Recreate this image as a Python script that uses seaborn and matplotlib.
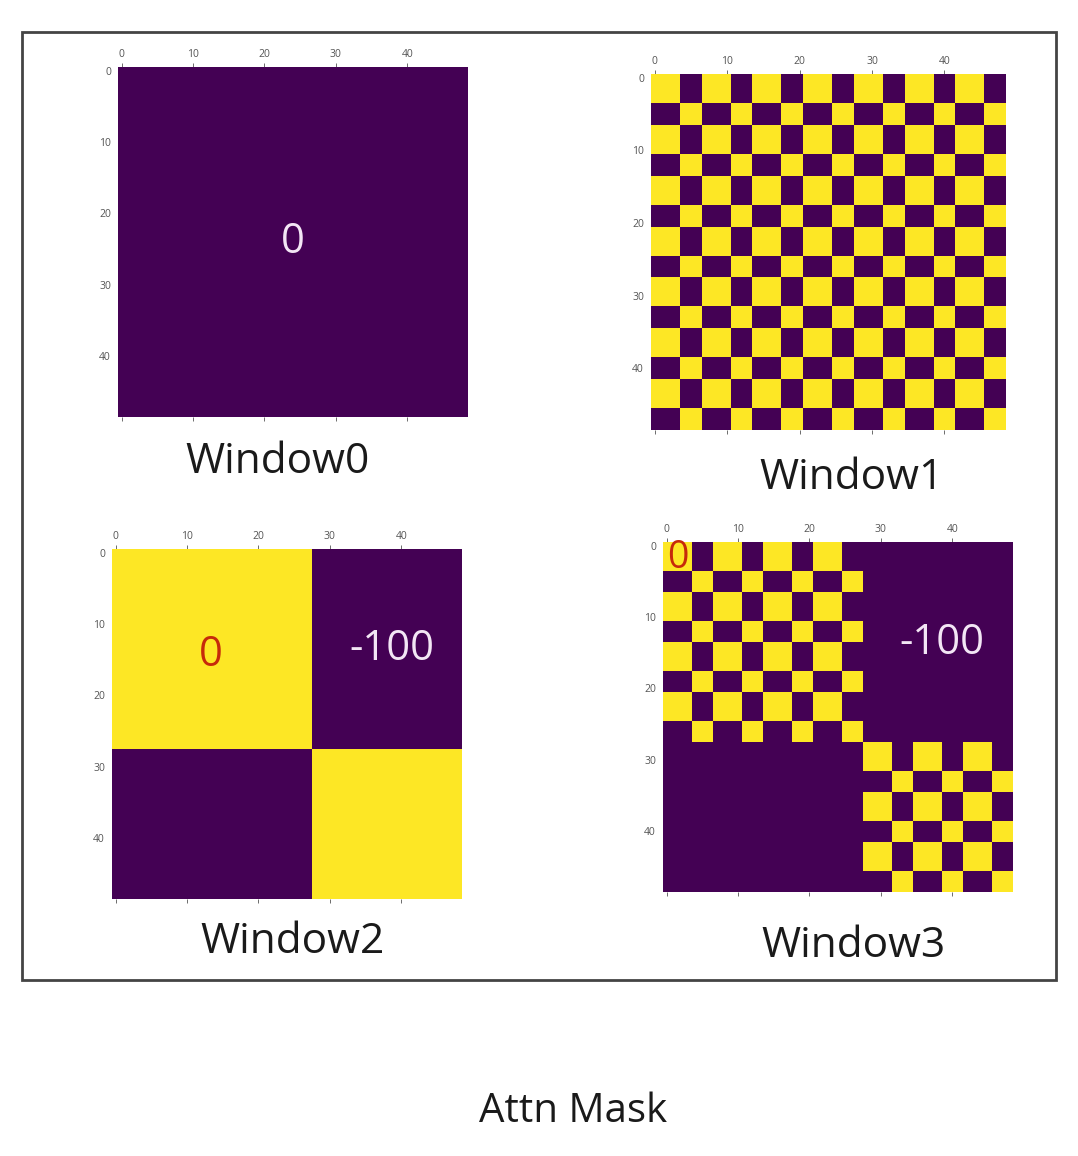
import numpy as np
import matplotlib
matplotlib.use("Agg")
import matplotlib.pyplot as plt
import seaborn as sns
from matplotlib.patches import Rectangle

# Swin shifted-window attention masks: window size 7 -> 49 tokens per window.
# Region id of every cell in the 7x7 window, one grid per window.
window0_regions = [[0, 0, 0, 0, 0, 0, 0]] * 7
window1_regions = [[0, 0, 0, 0, 1, 1, 1]] * 7
window2_regions = [[0] * 7] * 4 + [[1] * 7] * 3
window3_regions = [[0, 0, 0, 0, 1, 1, 1]] * 4 + [[2, 2, 2, 2, 3, 3, 3]] * 3

same_region_value = 0
other_region_value = -100

window_names = ["Window0", "Window1", "Window2", "Window3"]
tick_values = [0, 10, 20, 30, 40]


def attn_mask(regions):
    ids = np.array(regions).flatten()
    diff = ids[None, :] - ids[:, None]
    return np.where(diff != 0, other_region_value, same_region_value)


masks = [attn_mask(r) for r in
         [window0_regions, window1_regions, window2_regions, window3_regions]]

sns.set_theme(style="white")
plt.rcParams['font.family'] = ['Open Sans', 'DejaVu Sans']

W, H = 1078, 1156
fig = plt.figure(figsize=(W / 100, H / 100), dpi=100)


def px_axes(x0, y0, x1, y1):
    return fig.add_axes([x0 / W, 1 - y1 / H, (x1 - x0) / W, (y1 - y0) / H])


# pixel boxes of each heatmap
boxes = [(118, 67, 468, 417), (651, 74, 1006, 430),
         (112, 549, 462, 899), (663, 542, 1013, 892)]
label_pos = [(278, 462), (851, 478), (293, 942), (853, 946)]

for i, (mask, box) in enumerate(zip(masks, boxes)):
    ax = px_axes(*box)
    if mask.max() == mask.min():
        # constant matrix: matplotlib maps it to the bottom of the colormap
        vmin, vmax = mask.min(), mask.min() + 1
    else:
        vmin, vmax = mask.min(), mask.max()
    sns.heatmap(mask, cmap="viridis", vmin=vmin, vmax=vmax, cbar=False,
                xticklabels=False, yticklabels=False, ax=ax)
    pos = [t + 0.5 for t in tick_values]
    ax.set_xticks(pos)
    ax.set_xticklabels([str(t) for t in tick_values])
    ax.set_yticks(pos)
    ax.set_yticklabels([str(t) for t in tick_values], rotation=0)
    ax.xaxis.set_ticks_position("both")
    ax.tick_params(axis="x", labeltop=True, labelbottom=False)
    ax.tick_params(which="both", length=3, width=0.6, colors="#555555",
                   labelsize=7.5, pad=2)
    for s in ax.spines.values():
        s.set_visible(False)

    lx, ly = label_pos[i]
    fig.text(lx / W, 1 - ly / H, window_names[i], ha="center", va="center",
             fontsize=30.5, color="#1a1a1a")

    if i == 0:
        ax.text(0.5, 0.5, "0", transform=ax.transAxes, ha="center",
                va="center", fontsize=30, color="#f3e6f5")
    elif i == 2:
        ax.text(0.283, 0.697, "0", transform=ax.transAxes, ha="center",
                va="center", fontsize=30, color="#c62a0a")
        ax.text(0.80, 0.714, "-100", transform=ax.transAxes, ha="center",
                va="center", fontsize=30, color="#f3e6f5")
    elif i == 3:
        ax.text(0.042, 0.955, "0", transform=ax.transAxes, ha="center",
                va="center", fontsize=27, color="#c62a0a")
        ax.text(0.797, 0.711, "-100", transform=ax.transAxes, ha="center",
                va="center", fontsize=30, color="#f3e6f5")

# frame around the four panels
fig.patches.append(Rectangle((22 / W, 1 - 980 / H), (1056 - 22) / W,
                             (980 - 32) / H, transform=fig.transFigure,
                             fill=False, edgecolor="#444444", linewidth=2))

fig.text(573 / W, 1 - 1112 / H, "Attn Mask", ha="center", va="center",
         fontsize=29, color="#1a1a1a")

fig.savefig("out.png", dpi=100)
